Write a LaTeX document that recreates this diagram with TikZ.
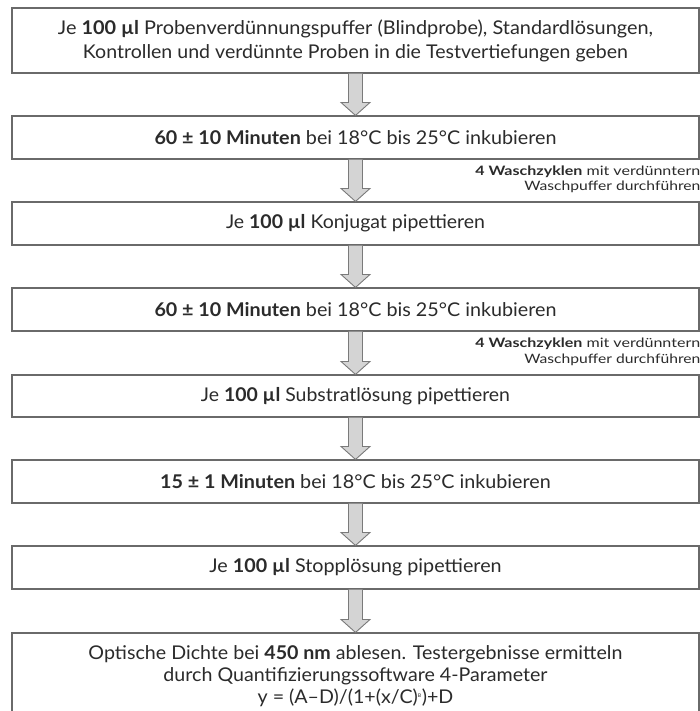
\documentclass[tikz,border=0pt]{standalone}
\usepackage{graphicx}
\usepackage{fontspec}
\setmainfont{Lato}
\usetikzlibrary{calc}
\definecolor{txt}{HTML}{2B2B2B}
\definecolor{edge}{HTML}{6A6A6A}
\definecolor{arrfill}{HTML}{D4D4D4}
\definecolor{arredge}{HTML}{7A7A7A}
\newcommand{\boxfont}{\fontsize{19}{24}\selectfont}
\newcommand{\lastfont}{\fontsize{19}{22}\selectfont}
\newcommand{\washfont}{\fontsize{13}{15.5}\selectfont}
\newcommand{\fitw}[2]{\resizebox{#1}{\height}{#2}}
\newlength{\natw}
\newlength{\natwb}
\tikzset{
  stepbox/.style={draw=edge, line width=1.1pt, rectangle, minimum width=687bp, text=txt, font=\boxfont, align=center, inner sep=0pt},
  blockarrow/.style={draw=arredge, fill=arrfill, line width=0.9pt, line join=miter},
  washtext/.style={text=txt, font=\washfont, align=right, anchor=north east, inner sep=0pt}
}
\newcommand{\blockarr}[2]{%
  \draw[blockarrow] ($(#1.south)+(-7,0)$) -- ($(#2.north)+(-7,-13)$) -- ($(#2.north)+(-14.5,-13)$) -- (#2.north) -- ($(#2.north)+(14.5,-13)$) -- ($(#2.north)+(7,-13)$) -- ($(#1.south)+(7,0)$);
}
\begin{document}
\settowidth{\natw}{\boxfont\textbf{60 ± 10 Minuten} bei 18°C bis 25°C inkubieren}%
\settowidth{\natwb}{\lastfont Optische Dichte bei \textbf{450 nm} ablesen. Testergebnisse ermitteln}%
\pgfmathsetmacro{\hs}{403.5/\natw}%
\pgfmathsetmacro{\hsb}{536/\natwb}%
\begin{tikzpicture}[x=1bp,y=-1bp]
\useasboundingbox (0,0) rectangle (700,711);
\fill[white] (0,0) rectangle (700,711);
% boxes (x: 12 .. 699)
\node[stepbox, minimum height=65bp] (b1) at (355.5,40.5) {\fitw{595bp}{Je \textbf{100 µl} Probenverdünnungspuffer (Blindprobe), Standardlösungen,}\\\fitw{545bp}{Kontrollen und verdünnte Proben in die Testvertiefungen geben}};
\node[stepbox, minimum height=43bp] (b2) at (355.5,137.5) {\fitw{402bp}{\textbf{60 ± 10 Minuten} bei 18°C bis 25°C inkubieren}};
\node[stepbox, minimum height=43bp] (b3) at (355.5,223.5) {\fitw{259bp}{Je \textbf{100 µl} Konjugat pipettieren}};
\node[stepbox, minimum height=43bp] (b4) at (355.5,309.5) {\fitw{402bp}{\textbf{60 ± 10 Minuten} bei 18°C bis 25°C inkubieren}};
\node[stepbox, minimum height=42bp] (b5) at (355.5,396) {\fitw{309bp}{Je \textbf{100 µl} Substratlösung pipettieren}};
\node[stepbox, minimum height=43bp] (b6) at (355.5,481.5) {\scalebox{\hs}[1]{\textbf{15 ± 1 Minuten} bei 18°C bis 25°C inkubieren}};
\node[stepbox, minimum height=43bp] (b7) at (355.5,567.5) {\scalebox{\hs}[1]{Je \textbf{100 µl} Stopplösung pipettieren}};
\node[stepbox, minimum height=86bp] (b8) at (355.5,676) {};
\node[text=txt, font=\lastfont, align=center, anchor=north, inner sep=0pt] (b8t) at (355.5,645.5) {\scalebox{\hsb}[1]{Optische Dichte bei \textbf{450 nm} ablesen. Testergebnisse ermitteln}\\\scalebox{\hsb}[1]{durch Quantifizierungssoftware 4-Parameter}\\\scalebox{\hsb}[1]{y = (A–D)/(1+(x/C)\textsuperscript{\tiny B})+D}};
% arrows
\blockarr{b1}{b2}
\blockarr{b2}{b3}
\blockarr{b3}{b4}
\blockarr{b4}{b5}
\blockarr{b5}{b6}
\blockarr{b6}{b7}
\blockarr{b7}{b8}
% wash notes
\node[washtext] (w1) at (700.5,165.5) {\fitw{225bp}{\textbf{4 Waschzyklen} mit verdünntern}\\\fitw{176bp}{Waschpuffer durchführen}};
\node[washtext] (w2) at (700.5,338) {\fitw{225bp}{\textbf{4 Waschzyklen} mit verdünntern}\\\fitw{176bp}{Waschpuffer durchführen}};
\end{tikzpicture}
\end{document}
